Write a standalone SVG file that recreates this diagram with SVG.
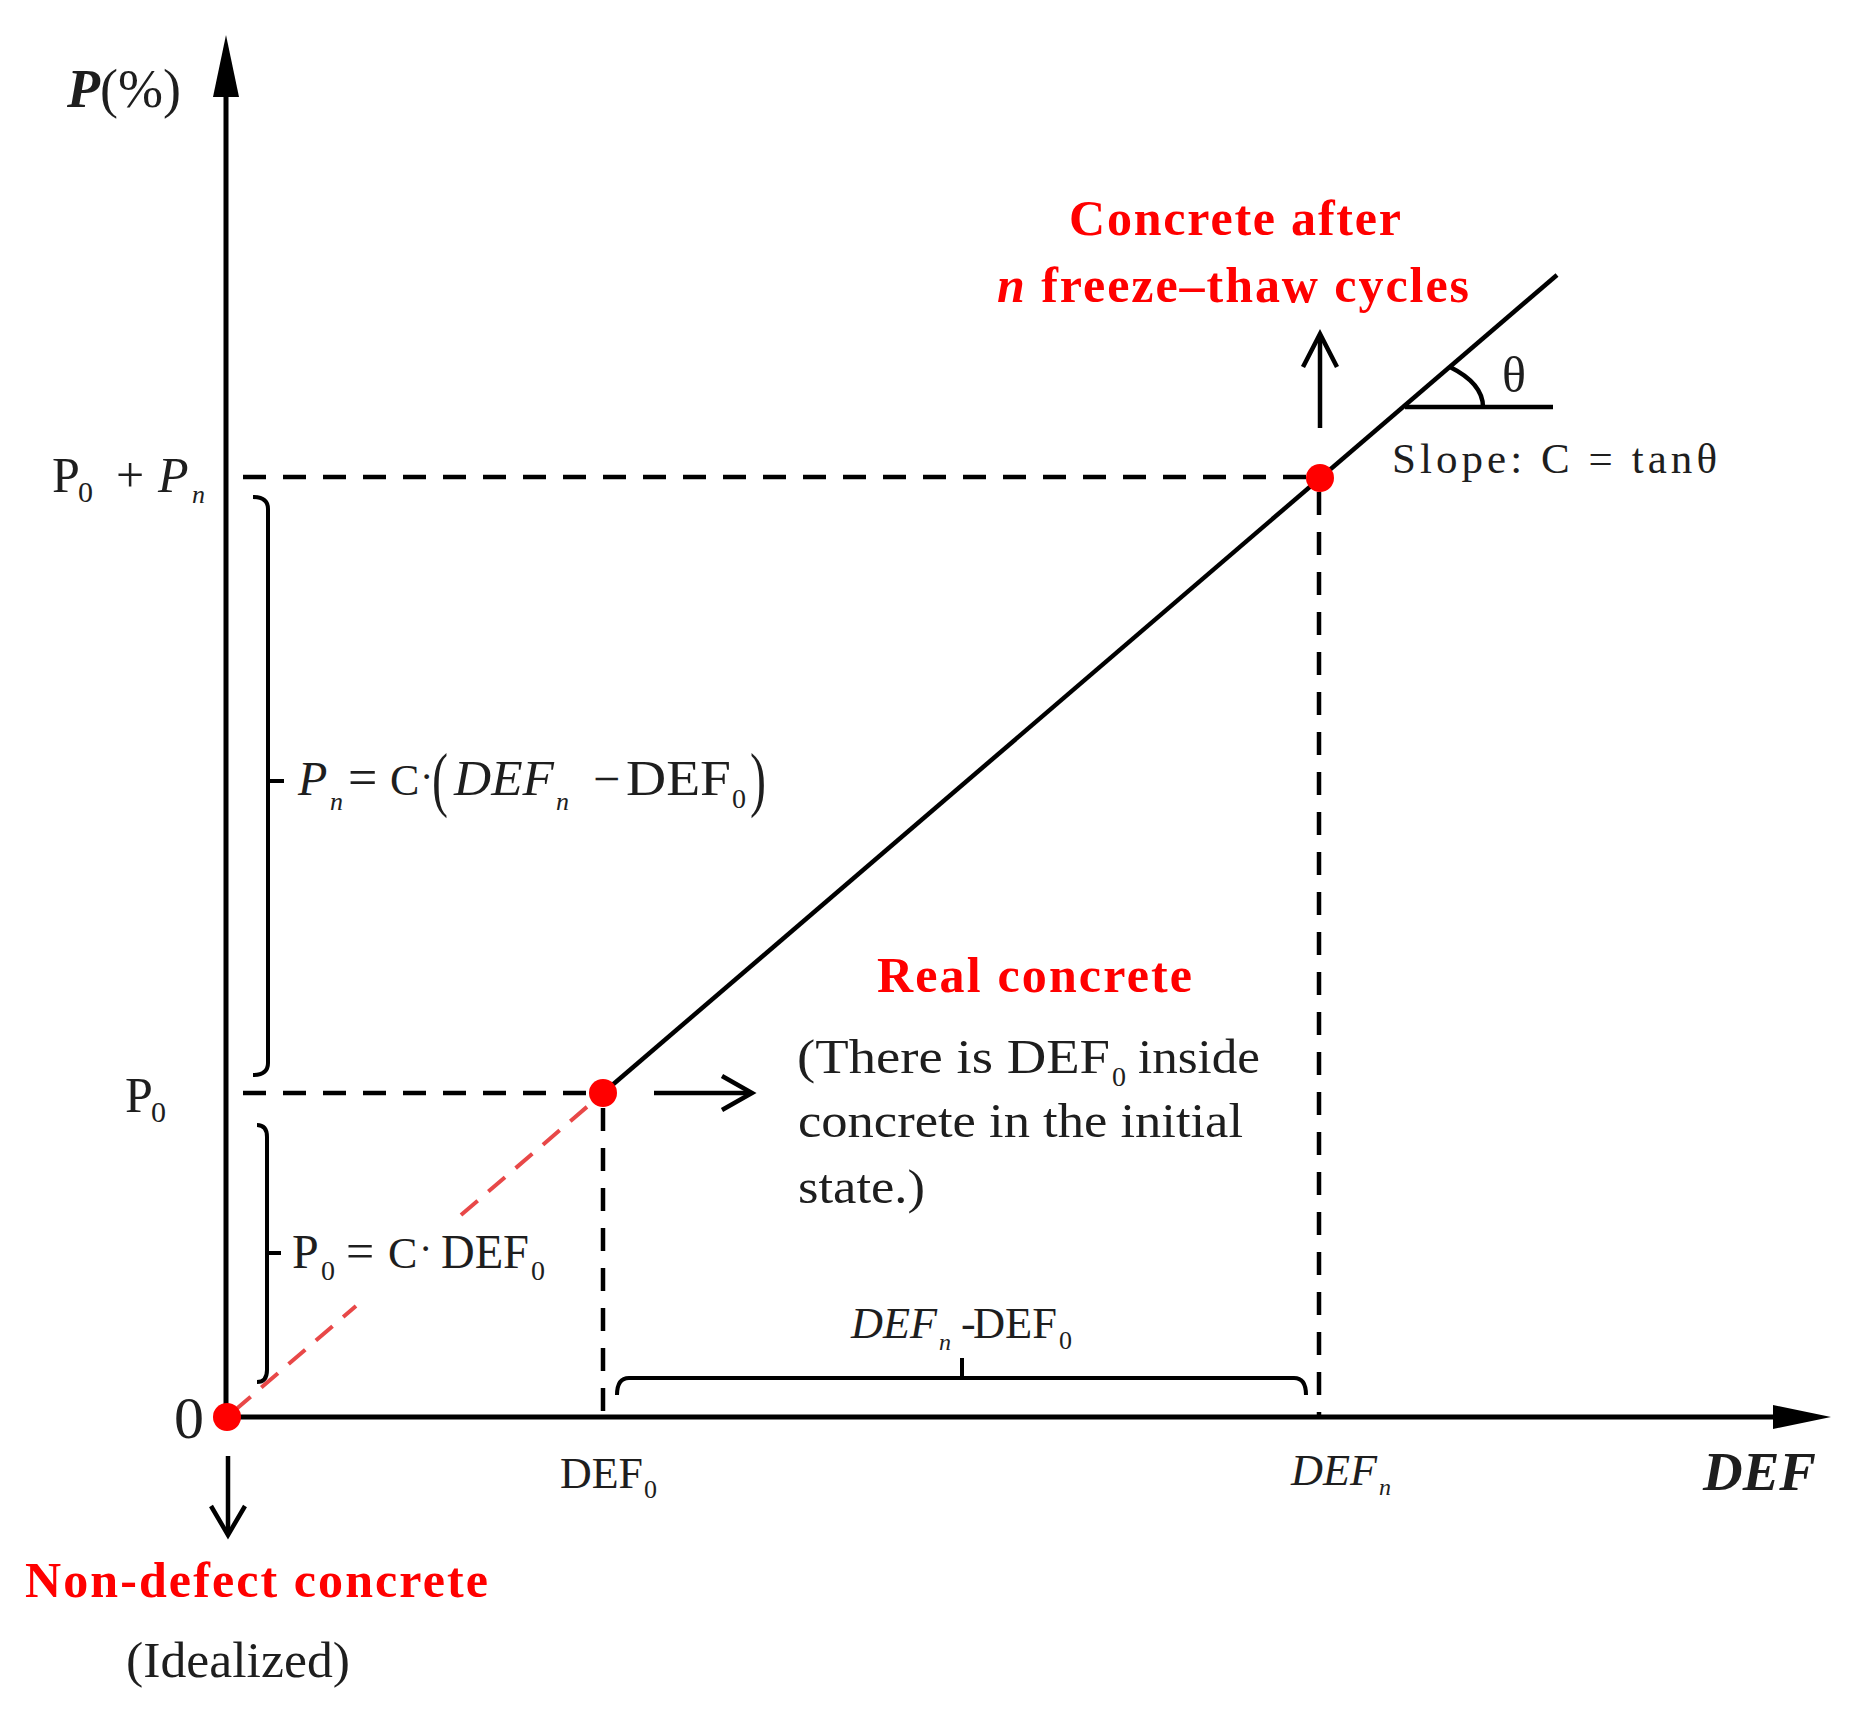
<svg xmlns="http://www.w3.org/2000/svg" width="1855" height="1716" viewBox="0 0 1855 1716">
<style>
text{font-family:"Liberation Serif","Times New Roman",serif;fill:#1e1e1e}
.red{fill:#ff0000;font-weight:bold;font-size:50px}
.lbl{font-size:48px}
.it{font-style:italic}
.sub{font-size:28px}
.ln{stroke:#000;stroke-width:4.5;fill:none}
.ax{stroke:#000;stroke-width:5;fill:none}
.dash{stroke:#000;stroke-width:4.5;stroke-dasharray:23 17;fill:none}
.rdash{stroke:#e84848;stroke-width:4;stroke-dasharray:22 14;fill:none}
.br{stroke:#000;stroke-width:4;fill:none}
.dot{fill:#ff0000}
</style>
<rect width="1855" height="1716" fill="#fff"/>
<g id="connectors">
  <g id="axes">
    <line class="ax" x1="226" y1="1417" x2="226" y2="92"/>
    <polygon points="226,35 213,97 239,97" fill="#000"/>
    <line class="ax" x1="226" y1="1417" x2="1778" y2="1417"/>
    <polygon points="1831,1417 1773,1405 1773,1429" fill="#000"/>
  </g>
  <g id="guides">
    <line class="dash" x1="243" y1="477" x2="1306" y2="477"/>
    <line class="dash" x1="243" y1="1093" x2="590" y2="1093"/>
    <line class="dash" x1="603" y1="1108" x2="603" y2="1417"/>
    <line class="dash" x1="1319" y1="492" x2="1319" y2="1417"/>
  </g>
  <line id="main-line" class="ln" x1="603" y1="1093" x2="1557" y2="275"/>
  <g id="ideal-line">
    <line class="rdash" x1="234" y1="1411" x2="356" y2="1306"/>
    <line class="rdash" x1="461" y1="1215" x2="595" y2="1100"/>
  </g>
  <g id="arrows">
    <line class="ln" x1="654" y1="1093" x2="750" y2="1093"/>
    <polyline class="ln" points="722,1076 752,1093 722,1110"/>
    <line class="ln" x1="1320" y1="428" x2="1320" y2="336"/>
    <polyline class="ln" points="1303,367 1320,334 1337,367"/>
    <line class="ln" x1="228" y1="1456" x2="228" y2="1533"/>
    <polyline class="ln" points="211,1506 228,1535 245,1506"/>
  </g>
  <g id="angle">
    <line class="ln" x1="1405" y1="407" x2="1553" y2="407"/>
    <path class="ln" d="M1450 367 C1472 378 1483 392 1483 407"/>
  </g>
  <g id="braces">
    <path class="br" d="M253 497 Q268 497 268 509 L268 1063 Q268 1075 253 1075 M268 781 L284 781"/>
    <path class="br" d="M257 1125 Q267 1125 267 1137 L267 1370 Q267 1382 257 1382 M267 1253 L281 1253"/>
    <path class="br" d="M617 1395 Q617 1378 629 1378 L1294 1378 Q1306 1378 1306 1395 M962 1378 L962 1358"/>
  </g>
</g>
<g id="node-origin">
  <circle class="dot" cx="227" cy="1417" r="14"/>
  <text x="174" y="1438" font-size="60">0</text>
  <text class="red" x="25" y="1597" textLength="463" lengthAdjust="spacing">Non-defect concrete</text>
  <text x="126" y="1677" font-size="50" textLength="224" lengthAdjust="spacingAndGlyphs">(Idealized)</text>
</g>
<g id="node-real">
  <circle class="dot" cx="603" cy="1093" r="14"/>
  <text class="red" x="877" y="992" textLength="315" lengthAdjust="spacing">Real concrete</text>
  <text class="lbl" x="797" y="1073" textLength="313" lengthAdjust="spacingAndGlyphs">(There is DEF</text>
  <text class="sub" x="1112" y="1086">0</text>
  <text class="lbl" x="1138" y="1073" textLength="122" lengthAdjust="spacingAndGlyphs">inside</text>
  <text class="lbl" x="798" y="1137" textLength="445" lengthAdjust="spacingAndGlyphs">concrete in the initial</text>
  <text class="lbl" x="798" y="1203" textLength="127" lengthAdjust="spacingAndGlyphs">state.)</text>
</g>
<g id="node-after">
  <circle class="dot" cx="1320" cy="478" r="14"/>
  <text class="red" x="1069" y="235" textLength="332" lengthAdjust="spacing">Concrete after</text>
  <text class="red" x="997" y="302" textLength="472" lengthAdjust="spacing"><tspan font-style="italic">n</tspan> freeze–thaw cycles</text>
  <text x="1502" y="392" font-size="50">θ</text>
  <text x="1392" y="473" font-size="43" textLength="325" lengthAdjust="spacing">Slope: C = tanθ</text>
</g>
<g id="axis-labels">
  <text x="67" y="107" font-size="54"><tspan font-weight="bold" font-style="italic">P</tspan>(%)</text>
  <text x="1703" y="1490" font-size="54" font-weight="bold" font-style="italic" textLength="113" lengthAdjust="spacingAndGlyphs">DEF</text>
  <text x="52" y="492" font-size="50">P</text>
  <text x="78" y="502" font-size="30">0</text>
  <text x="116" y="492" font-size="50">+</text>
  <text x="158" y="492" font-size="50" font-style="italic">P</text>
  <text x="192" y="503" font-size="26" font-style="italic">n</text>
  <text x="125" y="1112" font-size="50">P</text>
  <text x="151" y="1122" font-size="30">0</text>
  <text x="560" y="1488" font-size="44" textLength="83" lengthAdjust="spacingAndGlyphs">DEF</text>
  <text x="644" y="1498" font-size="26">0</text>
  <text x="1291" y="1485" font-size="44" font-style="italic" textLength="86" lengthAdjust="spacingAndGlyphs">DEF</text>
  <text x="1379" y="1495" font-size="24" font-style="italic">n</text>
</g>
<g id="formulas">
  <text x="298" y="795" font-size="48" font-style="italic">P</text>
  <text x="330" y="810" font-size="26" font-style="italic">n</text>
  <text x="348" y="795" font-size="52">=</text>
  <text x="390" y="795" font-size="44">C</text>
  <text x="420" y="790" font-size="40">·</text>
  <text x="432" y="803" font-size="72" textLength="16" lengthAdjust="spacingAndGlyphs">(</text>
  <text x="454" y="795" font-size="50" font-style="italic" textLength="100" lengthAdjust="spacingAndGlyphs">DEF</text>
  <text x="556" y="810" font-size="26" font-style="italic">n</text>
  <text x="593" y="795" font-size="48">−</text>
  <text x="626" y="795" font-size="50" textLength="105" lengthAdjust="spacingAndGlyphs">DEF</text>
  <text x="732" y="808" font-size="28">0</text>
  <text x="750" y="803" font-size="72" textLength="16" lengthAdjust="spacingAndGlyphs">)</text>
  <text x="292" y="1268" font-size="48">P</text>
  <text x="321" y="1280" font-size="28">0</text>
  <text x="346" y="1268" font-size="50">=</text>
  <text x="388" y="1268" font-size="44">C</text>
  <text x="419" y="1262" font-size="40">·</text>
  <text x="441" y="1268" font-size="48" textLength="88" lengthAdjust="spacingAndGlyphs">DEF</text>
  <text x="531" y="1280" font-size="28">0</text>
  <text x="851" y="1338" font-size="44" font-style="italic" textLength="86" lengthAdjust="spacingAndGlyphs">DEF</text>
  <text x="939" y="1350" font-size="24" font-style="italic">n</text>
  <text x="961" y="1338" font-size="44">-</text>
  <text x="973" y="1338" font-size="44" textLength="84" lengthAdjust="spacingAndGlyphs">DEF</text>
  <text x="1059" y="1349" font-size="26">0</text>
</g>
</svg>
